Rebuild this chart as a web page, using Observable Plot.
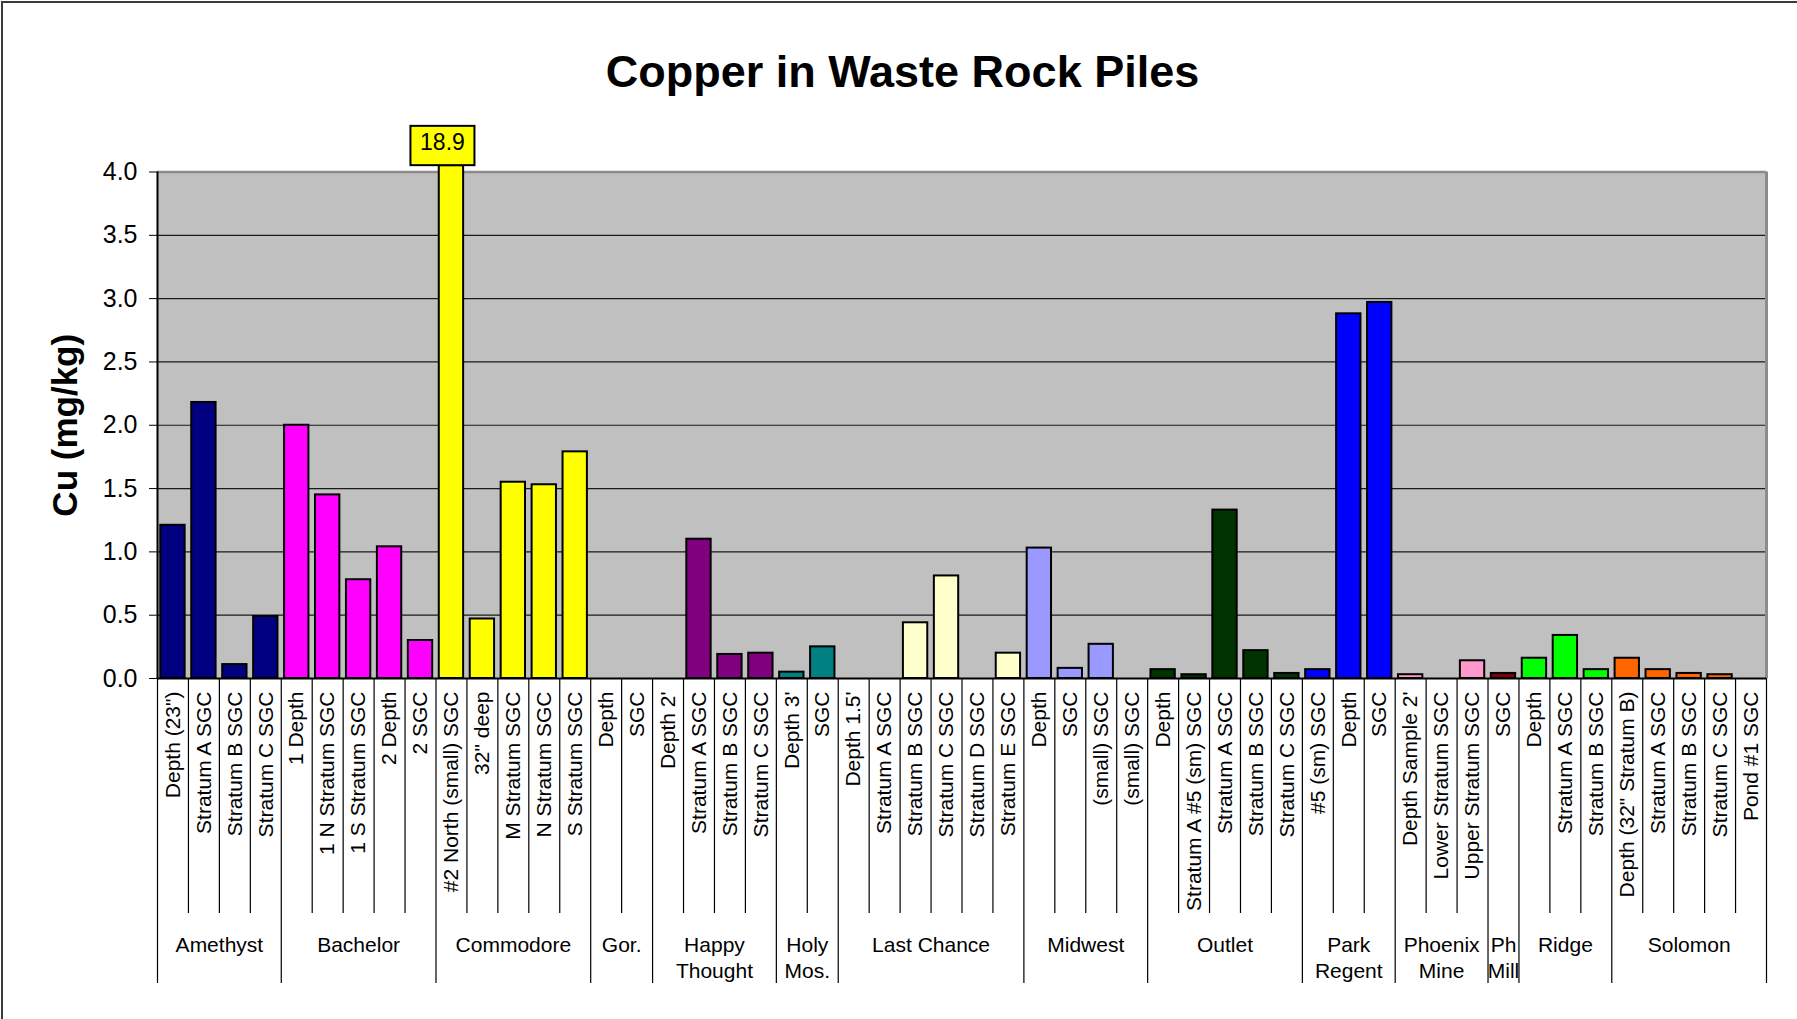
<!DOCTYPE html>
<html><head><meta charset="utf-8">
<script src="https://cdn.jsdelivr.net/npm/d3@7"></script>
<script src="https://cdn.jsdelivr.net/npm/@observablehq/plot@0.6"></script>
<style>
body{margin:0;background:#fff;font-family:"Liberation Sans",Arial,sans-serif;}
#page{position:relative;width:1797px;height:1019px;overflow:hidden;background:#fff;}
#title{position:absolute;left:4px;top:49px;width:1797px;text-align:center;font-size:45px;font-weight:bold;line-height:45px;color:#000;}
#chart{position:absolute;left:0;top:110px;}
#border{position:absolute;left:1px;top:1px;right:-4px;bottom:-4px;border-top:2px solid #3a3a3a;border-left:2px solid #3a3a3a;pointer-events:none;}
</style></head>
<body><div id="page"><div id="title">Copper in Waste Rock Piles</div><div id="chart"></div><div id="border"></div></div>
<script>
const groupNames = ["Amethyst","Bachelor","Commodore","Gor.","Happy\nThought","Holy\nMos.","Last Chance","Midwest","Outlet","Park\nRegent","Phoenix\nMine","Ph\nMill","Ridge","Solomon"];
const groupColors = ["#000080","#FF00FF","#FFFF00","#C0C0C0","#800080","#008080","#FFFFCC","#9999FF","#003300","#0000FF","#FF99CC","#800000","#00FF00","#FF6600"];
const groupSamples = [
  ['Depth (23")',"Stratum A SGC","Stratum B SGC","Stratum C SGC"],
  ["1 Depth","1 N Stratum SGC","1 S Stratum SGC","2 Depth","2 SGC"],
  ["#2 North (small) SGC",'32" deep',"M Stratum SGC","N Stratum SGC","S Stratum SGC"],
  ["Depth","SGC"],
  ["Depth 2'","Stratum A SGC","Stratum B SGC","Stratum C SGC"],
  ["Depth 3'","SGC"],
  ["Depth 1.5'","Stratum A SGC","Stratum B SGC","Stratum C SGC","Stratum D SGC","Stratum E SGC"],
  ["Depth","SGC","(small) SGC","(small) SGC"],
  ["Depth","Stratum A #5 (sm) SGC","Stratum A SGC","Stratum B SGC","Stratum C SGC"],
  ["#5 (sm) SGC","Depth","SGC"],
  ["Depth Sample 2'","Lower Stratum SGC","Upper Stratum SGC"],
  ["SGC"],
  ["Depth","Stratum A SGC","Stratum B SGC"],
  ['Depth (32" Stratum B)',"Stratum A SGC","Stratum B SGC","Stratum C SGC","Pond #1 SGC"]
];
const groupValues = [
  [1.21, 2.18, 0.11, 0.49],
  [2.00, 1.45, 0.78, 1.04, 0.30],
  [18.9, 0.47, 1.55, 1.53, 1.79],
  [0, 0],
  [0, 1.10, 0.19, 0.20],
  [0.05, 0.25],
  [0, 0, 0.44, 0.81, 0, 0.20],
  [1.03, 0.08, 0.27, 0],
  [0.07, 0.03, 1.33, 0.22, 0.04],
  [0.07, 2.88, 2.97],
  [0.03, 0, 0.14],
  [0.04],
  [0.16, 0.34, 0.07],
  [0.16, 0.07, 0.04, 0.03, 0]
];
const yTicks = [0, 0.5, 1.0, 1.5, 2.0, 2.5, 3.0, 3.5, 4.0];

// build table
const rows = [];
const groupSpans = [];
let idx = 0;
groupNames.forEach((g, gi) => {
  const start = idx;
  groupSamples[gi].forEach((s, si) => {
    rows.push({i: idx, group: g, label: s, value: groupValues[gi][si], color: groupColors[gi], first: si === 0});
    idx++;
  });
  groupSpans.push({group: g, start, end: idx});
});
const n = idx;
const yMax = yTicks[yTicks.length - 1];
const overflowCap = yMax * 1.0125; // off-scale bar pokes just above the frame
const groupEdges = groupSpans.map(d => d.start).concat([n]);
const minorEdges = rows.filter(d => !d.first).map(d => d.i);

const W = 1797, H = 909, mt = 61.5, mb = 341, ml = 157, mr = 31;
const frameH = H - mt - mb;
const FONT = '"Liberation Sans", Arial, Helvetica, sans-serif';

const plot = Plot.plot({
  width: W, height: H,
  marginTop: mt, marginBottom: mb, marginLeft: ml, marginRight: mr,
  style: {fontFamily: FONT, fontSize: "25px", color: "#000", background: "transparent", overflow: "visible"},
  x: {domain: [0, n], axis: null},
  y: {domain: [0, yMax], ticks: yTicks, tickFormat: d => d.toFixed(1), tickSize: 8, tickPadding: 12, label: null},
  marks: [
    Plot.frame({fill: "#C0C0C0", stroke: null}),
    Plot.ruleY(yTicks.filter(t => t > 0 && t < yMax), {stroke: "#1a1a1a", strokeWidth: 1.2}),
    Plot.ruleY([yMax], {stroke: "#8c8c8c", strokeWidth: 2.5}),
    Plot.ruleX([n], {stroke: "#8c8c8c", strokeWidth: 3}),
    Plot.ruleX(minorEdges, {insetTop: frameH, insetBottom: -235, stroke: "#000", strokeWidth: 1.2}),
    Plot.ruleX(groupEdges, {insetTop: frameH, insetBottom: -305, stroke: "#000", strokeWidth: 1.2}),
    Plot.rectY(rows.filter(d => d.value > 0), {
      x1: "i", x2: d => d.i + 1, y1: 0, y2: d => Math.min(d.value, overflowCap),
      insetLeft: 3.3, insetRight: 3.3, fill: "color", stroke: "#000", strokeWidth: 2
    }),
    Plot.ruleY([0], {stroke: "#000", strokeWidth: 2}),
    Plot.ruleX([0], {stroke: "#000", strokeWidth: 2}),
    Plot.text(rows, {x: d => d.i + 0.5, text: "label", frameAnchor: "bottom", dy: 13, rotate: -90,
      textAnchor: "end", lineAnchor: "middle", fontSize: 21, fill: "#000"}),
    Plot.text(groupSpans, {x: d => (d.start + d.end) / 2, text: "group", frameAnchor: "bottom", dy: 256,
      lineAnchor: "top", lineHeight: 1.2, fontSize: 21, fill: "#000"}),
    Plot.text(rows.filter(d => d.value > yMax), {x: d => d.i + 0.5, y: yMax, text: d => d.value.toFixed(1),
      dx: -9, dy: -29, lineAnchor: "middle", fontSize: 23, fill: "#000"}),
    Plot.text(["Cu (mg/kg)"], {frameAnchor: "left", dx: -92, rotate: -90, textAnchor: "middle", lineAnchor: "middle",
      fontSize: 35, fontWeight: "bold", fill: "#000"})
  ]
});
document.getElementById("chart").append(plot);

// callout box behind the off-scale value label
const overflowLabels = new Set(rows.filter(d => d.value > yMax).map(d => d.value.toFixed(1)));
plot.querySelectorAll("text").forEach(t => {
  if (!overflowLabels.has(t.textContent)) return;
  const bb = t.getBBox();
  const boxW = 64, boxH = 39.3;
  const r = document.createElementNS("http://www.w3.org/2000/svg", "rect");
  r.setAttribute("x", bb.x + bb.width / 2 - boxW / 2);
  r.setAttribute("y", bb.y - 3.5);
  r.setAttribute("width", boxW);
  r.setAttribute("height", boxH);
  r.setAttribute("fill", "#FFFF00");
  r.setAttribute("stroke", "#000");
  r.setAttribute("stroke-width", 2);
  if (t.getAttribute("transform")) r.setAttribute("transform", t.getAttribute("transform"));
  t.parentNode.insertBefore(r, t);
});
</script></body></html>
